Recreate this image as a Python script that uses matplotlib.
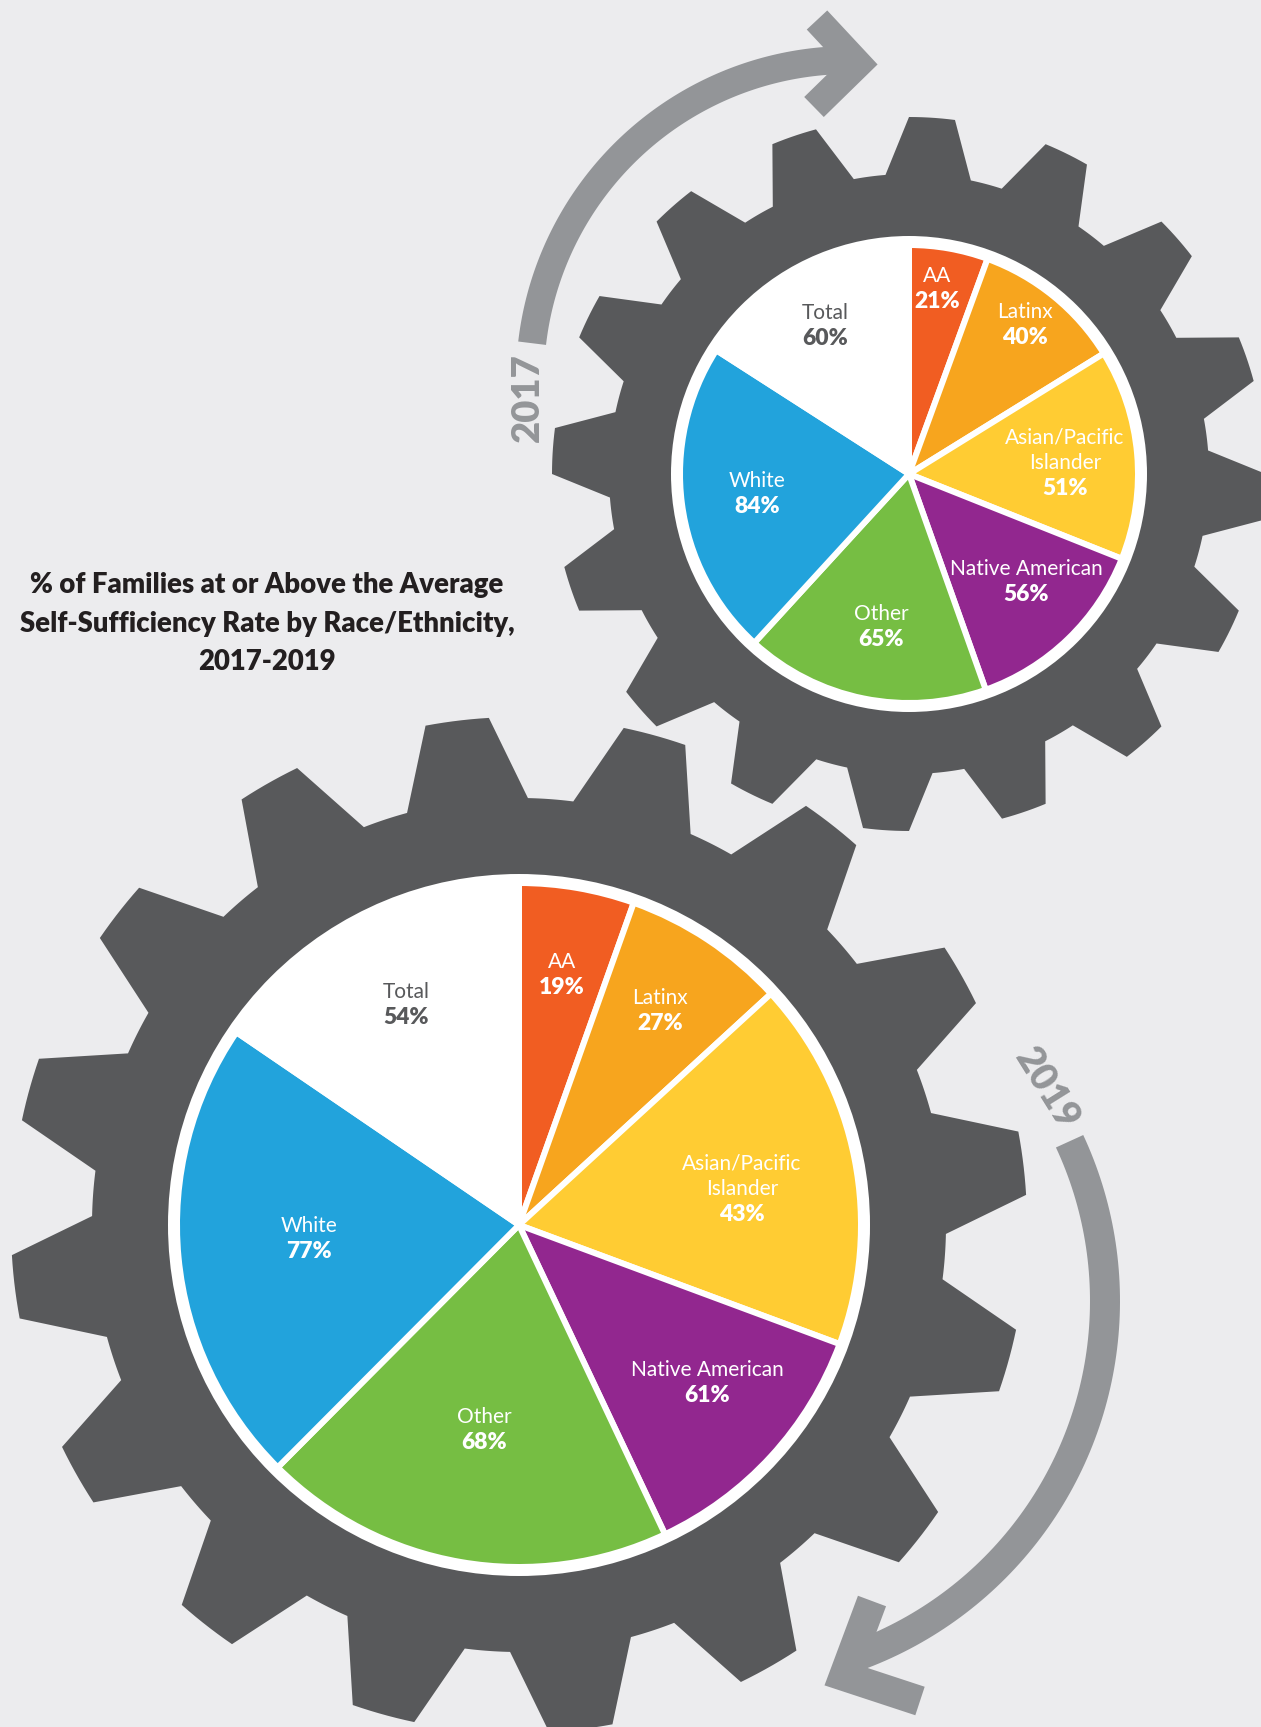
import numpy as np
import matplotlib
matplotlib.use('Agg')
import matplotlib.pyplot as plt
from matplotlib.patches import Polygon, Circle

# --- data ---
groups = ['AA', 'Latinx', 'Asian/Pacific\nIslander', 'Native American', 'Other', 'White', 'Total']
pct_2017 = [21, 40, 51, 56, 65, 84, 60]
pct_2019 = [19, 27, 43, 61, 68, 77, 54]
# slice sizes as drawn in the original graphic (Asian/PI and Native American wedges swapped)
slice_2017 = [21, 40, 56, 51, 65, 84, 60]
slice_2019 = [19, 27, 61, 43, 68, 77, 54]
slice_colors = ['#F15D22', '#F7A51E', '#FFCC33', '#92278F', '#76BE43', '#22A3DC', '#FFFFFF']
text_colors = ['white'] * 6 + ['#58595B']
title = ['% of Families at or Above the Average',
         'Self-Sufficiency Rate by Race/Ethnicity,',
         '2017-2019']

# --- layout (pixels, y measured from top) ---
W, H = 1261, 1727
DPI = 100
BG = '#ECECEE'
GEAR = '#58595B'
ARROW = '#939598'
FONT = 'Lato'


def Y(y):
    return H - y


def pt(px):
    return px * 72 / DPI


# label block centres relative to pie centre (dx, dy up), pixels
lab_2017 = [(28, 185), (116, 149), (156, 11), (117, -108), (-28, -153), (-152, -20), (-84, 148)]
lab_2019 = [(43, 250), (141, 214), (223, 36), (188, -158), (-35, -205), (-210, -14), (-113, 220)]

fig = plt.figure(figsize=(W / DPI, H / DPI), dpi=DPI, facecolor=BG)
ax = fig.add_axes([0, 0, 1, 1])
ax.set_facecolor(BG)


def gear(cx, cy, n, r_root, r_tip, half_base, half_tip, phase):
    pitch = 360 / n
    pts = []
    for k in range(n):
        a = phase + k * pitch
        for t in np.linspace(a - half_tip, a + half_tip, 8):
            pts.append((cx + r_tip * np.cos(np.radians(t)), cy + r_tip * np.sin(np.radians(t))))
        for t in np.linspace(a + half_base, a + pitch - half_base, 12):
            pts.append((cx + r_root * np.cos(np.radians(t)), cy + r_root * np.sin(np.radians(t))))
    ax.add_patch(Polygon(pts, closed=True, facecolor=GEAR, edgecolor='none', zorder=1))


def pie_chart(sizes, values, cx, cy, r, labels_at):
    ax.add_patch(Circle((cx, cy), r + 9, facecolor='white', edgecolor='none', zorder=2))
    wedges, _ = ax.pie(sizes, colors=slice_colors, startangle=90, counterclock=False,
                       radius=r, center=(cx, cy), frame=True,
                       wedgeprops=dict(edgecolor='white', linewidth=pt(6)))
    for w in wedges:
        w.set_zorder(3)
    for name, v, (dx, dy), tc in zip(groups, values, labels_at, text_colors):
        lines = name.split('\n') + [f'{v}%']
        n = len(lines)
        step = 25.5
        for i, line in enumerate(lines):
            yy = cy + dy + (n - 1) / 2 * step - i * step
            bold = i == n - 1
            ax.text(cx + dx, yy, line, ha='center', va='center', color=tc,
                    fontsize=16.5 if bold else 15, fontweight='heavy' if bold else 'normal',
                    family=FONT, zorder=4)


# gears
gear(519, Y(1225), 16, 427, 508, 8.2, 3.6, 97)
gear(909, Y(474), 16, 300, 357, 8.2, 3.7, 86.3)

# pies
pie_chart(slice_2019, pct_2019, 519, Y(1225), 342, lab_2019)
pie_chart(slice_2017, pct_2017, 909, Y(474), 229, lab_2017)

# arrows
t = np.radians(np.linspace(91, 173.4, 100))
ax.plot(850 + 320 * np.cos(t), Y(380) + 320 * np.sin(t), color=ARROW, lw=pt(28),
        solid_capstyle='butt', zorder=1)
ax.plot([817, 858, 814], [Y(20), Y(64), Y(107)], color=ARROW, lw=pt(28),
        solid_joinstyle='miter', solid_capstyle='butt', zorder=1)

t = np.radians(np.linspace(25, -71, 100))
ax.plot(727 + 378 * np.cos(t), Y(1301) + 378 * np.sin(t), color=ARROW, lw=pt(30),
        solid_capstyle='butt', zorder=1)
ax.plot([872, 844, 920], [Y(1601), Y(1676), Y(1701)], color=ARROW, lw=pt(30),
        solid_joinstyle='miter', solid_capstyle='butt', zorder=1)

ax.text(528, Y(398), '2017', rotation=90, ha='center', va='center', color=ARROW,
        fontsize=27.5, fontweight='heavy', family=FONT)
ax.text(1047, Y(1089), '2019', rotation=-58, ha='center', va='center', color=ARROW,
        fontsize=27.5, fontweight='heavy', family=FONT, rotation_mode='anchor')

# title
for i, line in enumerate(title):
    ax.text(267, Y(585 + i * 38.5), line, ha='center', va='center', color='#231F20',
            fontsize=19.8, fontweight='heavy', family=FONT)

ax.set_xlim(0, W)
ax.set_ylim(0, H)
ax.set_aspect('equal')
ax.axis('off')

fig.savefig('out.png', dpi=DPI, facecolor=BG)
